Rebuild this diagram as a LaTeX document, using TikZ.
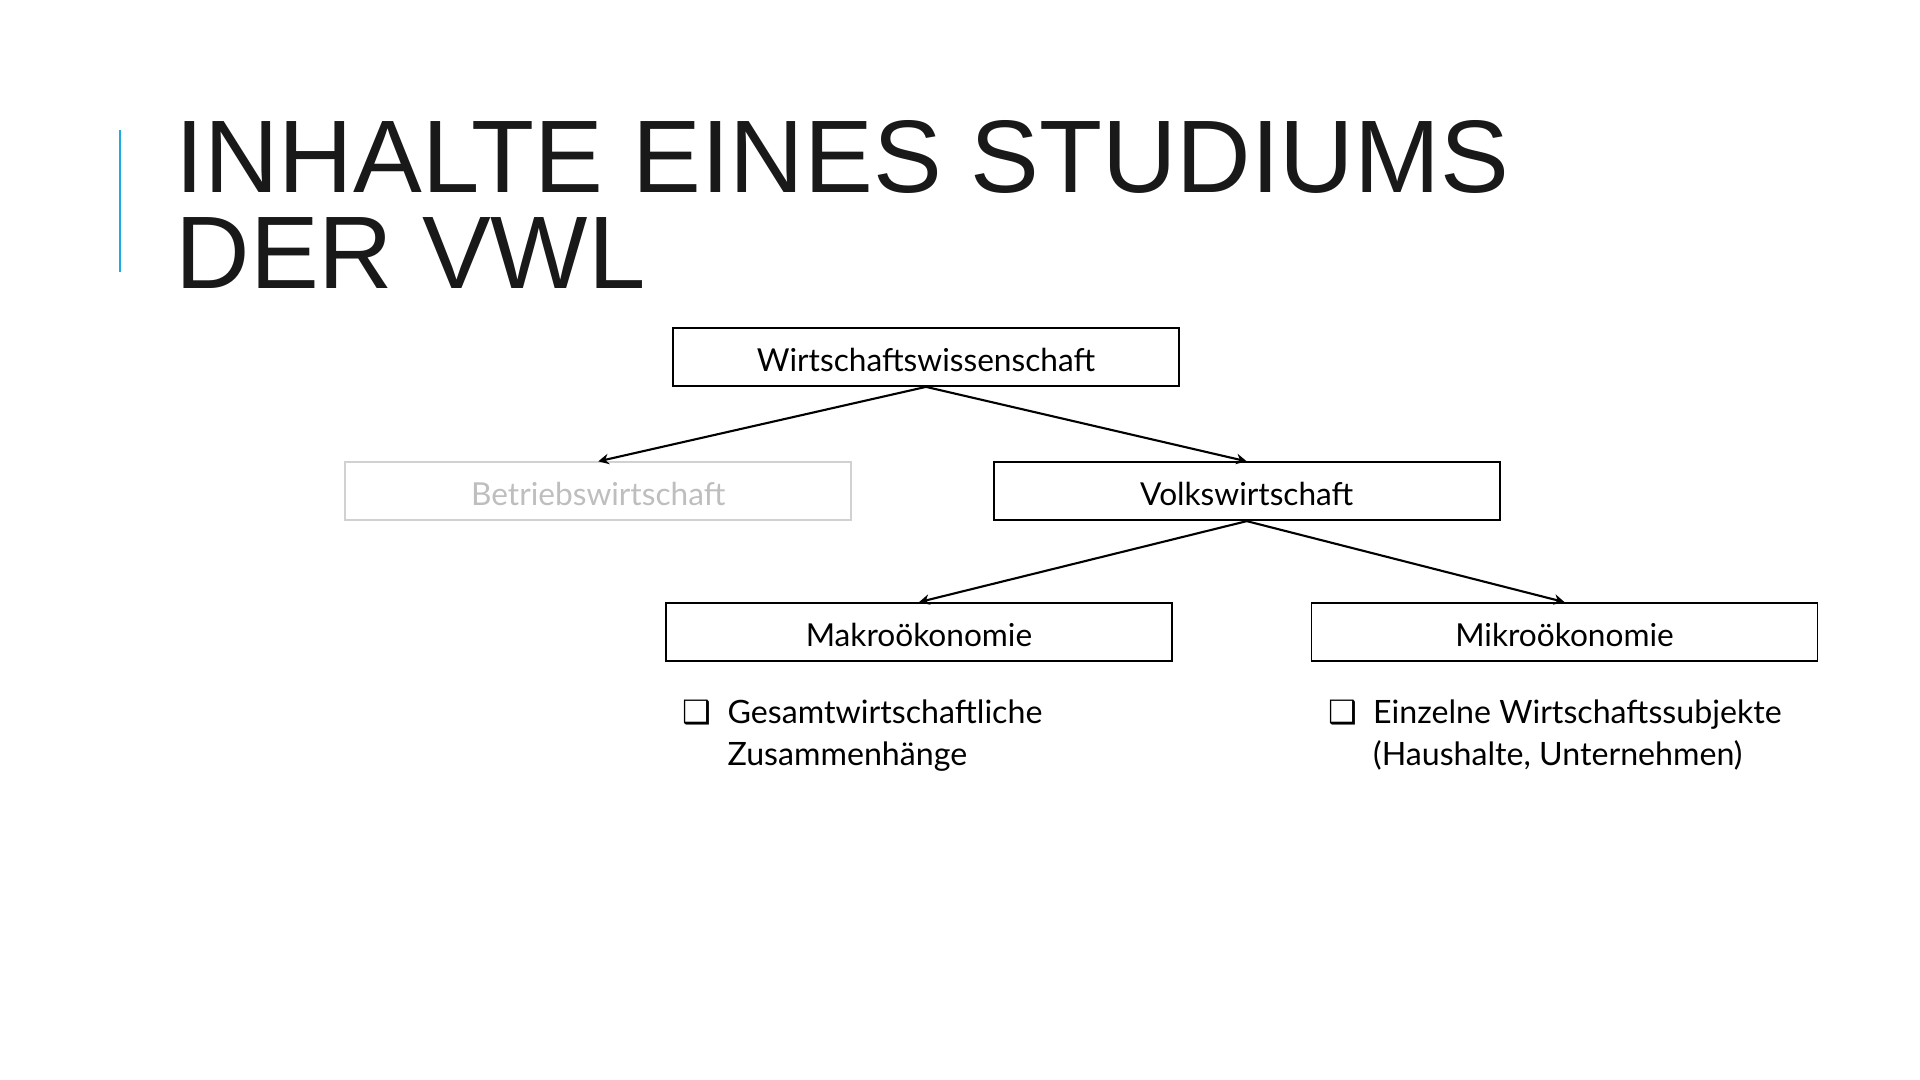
\documentclass[tikz,border=0pt]{standalone}
\usepackage{fontspec}
\setmainfont{Lato}
\newfontfamily\titlefont{Liberation Sans}
\newfontfamily\symfont{DejaVu Sans}
\usetikzlibrary{arrows.meta, positioning}
\definecolor{barblue}{RGB}{29,172,226}
\definecolor{fadegray}{RGB}{190,190,190}

\begin{document}
\begin{tikzpicture}[
    node distance=0.77cm and 1.4cm,
    box/.style={rectangle, minimum width=5.06cm, minimum height=0.58cm, text height=8.2pt, text depth=0pt, text centered, draw=black, line width=0.5pt, font=\fontsize{9}{11}\selectfont, inner sep=0pt},
    fadebox/.style={box, draw=fadegray!70, text=fadegray},
    heading/.style={anchor=base west, inner sep=0pt, font=\titlefont\fontsize{29.35}{30}\selectfont, text=black!90},
    bullet/.style={anchor=north west, inner sep=0pt, align=left, font=\fontsize{9.15}{11.9}\selectfont},
    arrow/.style={line width=0.6pt,-{Stealth[length=3pt,width=3pt]}}]
\useasboundingbox (0,0) rectangle (19.2,-10.8);
\draw [barblue, line width=0.85pt] (1.20,-1.30) -- (1.20,-2.72);
\node (title1) [heading] at (1.75,-1.93) {INHALTE EINES STUDIUMS};
\node (title2) [heading] at (1.75,-2.89) {DER VWL};
\node (wiwi) [box] at (9.26,-3.57) {Wirtschaftswissenschaft};
\node (bwl) [fadebox, below left=0.745cm and -1.80cm of wiwi] {Betriebswirtschaft};
\node (vwl) [box, below right=0.745cm and -1.87cm of wiwi] {Volkswirtschaft};
\node (makro) [box, below left=0.81cm and -1.80cm of vwl] {Makroökonomie};
\node (mikro) [box, below right=0.81cm and -1.90cm of vwl] {Mikroökonomie};
\node (makrotxt) [bullet, below right=0.32cm and 0.17cm of makro.south west] {\begin{tabular}{@{}l@{\hspace{0.16cm}}l@{}}{\symfont ❑} & Gesamtwirtschaftliche\\ & Zusammenhänge\end{tabular}};
\node (mikrotxt) [bullet, below right=0.32cm and 0.17cm of mikro.south west] {\begin{tabular}{@{}l@{\hspace{0.16cm}}l@{}}{\symfont ❑} & Einzelne Wirtschaftssubjekte\\ & (Haushalte, Unternehmen)\end{tabular}};
\draw [arrow] (wiwi.south) -- (bwl.north);
\draw [arrow] (wiwi.south) -- (vwl.north);
\draw [arrow] (vwl.south) -- (makro.north);
\draw [arrow] (vwl.south) -- (mikro.north);
\end{tikzpicture}
\end{document}
